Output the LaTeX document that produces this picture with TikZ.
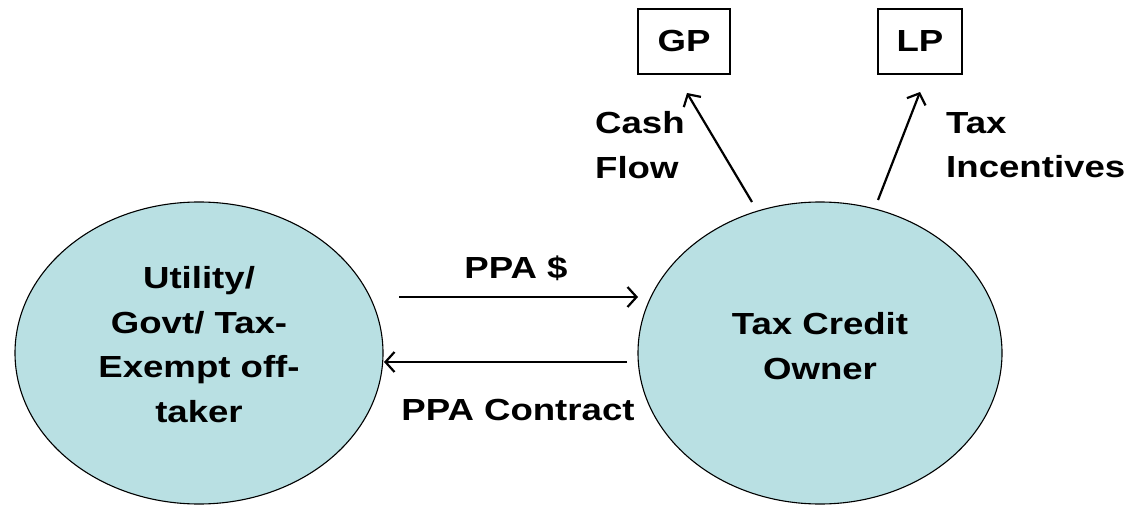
\documentclass[tikz,border=0pt]{standalone}
\usepackage{fontspec}
\setmainfont{Liberation Sans}[FakeStretch=1.2]
\usetikzlibrary{shapes.geometric,arrows.meta}
\definecolor{teal}{RGB}{185,224,227}
\tikzset{
  party/.style={ellipse,draw=black,line width=1.1pt,fill=teal,inner sep=0pt,align=center,
    font=\fontsize{30.5}{44.5}\selectfont\bfseries},
  partner/.style={draw=black,line width=1.2pt,minimum width=92pt,minimum height=65pt,
    inner sep=0pt,font=\fontsize{30.5}{44.5}\selectfont\bfseries},
  lbl/.style={inner sep=0pt,font=\fontsize{30.5}{44.5}\selectfont\bfseries},
  flow/.style={line width=2.2pt,-{Straight Barb[length=9pt,width=20pt,line width=2.2pt]}}
}
\begin{document}
\begin{tikzpicture}[x=1pt,y=-1pt]
\useasboundingbox (0,0) rectangle (1132,505);
\node[party,minimum width=368pt,minimum height=302pt,text depth=17pt] (util) at (199,353) {Utility/\\Govt/ Tax-\\Exempt off-\\taker};
\node[party,minimum width=364pt,minimum height=302pt,text depth=14pt] (owner) at (820,353) {Tax Credit\\Owner};
\node[partner] (gp) at (684,41.5) {GP};
\node[partner,minimum width=84pt] (lp) at (920,41.5) {LP};
\coordinate (a1s) at (399,297);
\coordinate (a1e) at (638,297);
\coordinate (a2s) at (627,362);
\coordinate (a2e) at (384,362);
\coordinate (gps) at (752,202);
\coordinate (gpe) at (687,93);
\coordinate (lps) at (878,200);
\coordinate (lpe) at (920,92);
\draw[flow] (a1s) -- (a1e);
\draw[flow] (a2s) -- (a2e);
\draw[flow] (gps) -- (gpe);
\draw[flow] (lps) -- (lpe);
\node[lbl] (ppa) at (516,268) {PPA \$};
\node[lbl] (contract) at (518,410) {PPA Contract};
\node[lbl,align=left,anchor=west] (cash) at (595,145) {Cash\\Flow};
\node[lbl,align=left,anchor=west] (tax) at (946,145) {Tax\\Incentives};
\end{tikzpicture}
\end{document}
